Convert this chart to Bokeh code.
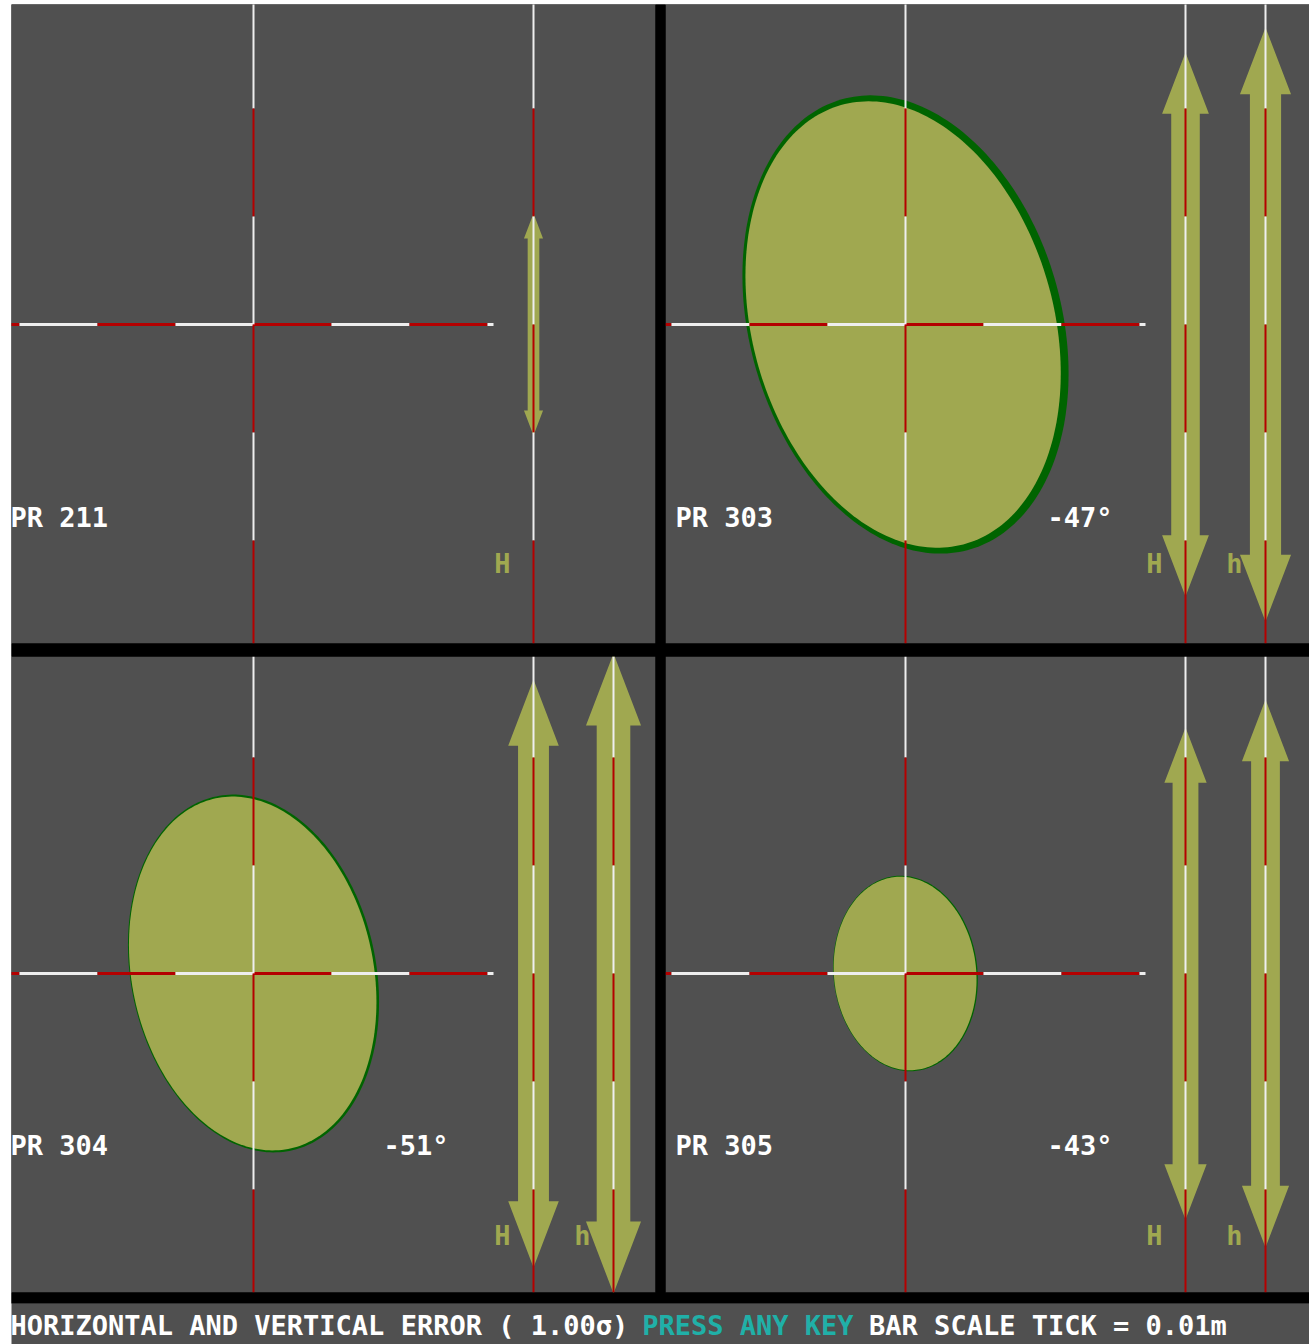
import numpy as np
from bokeh.plotting import figure
from bokeh.models import Range1d, ColumnDataSource
from bokeh.embed import file_html
from bokeh.resources import INLINE
from bokeh.core.properties import value

# ---------------- data ----------------
panel_names = ["PR 211", "PR 303", "PR 304", "PR 305"]
orient_labels = ["", "-47°", "-51°", "-43°"]
ellipse_major = [0.0, 234.0, 181.0, 98.0]    # semi-major axis (display units)
ellipse_minor = [0.0, 156.0, 122.5, 72.0]    # semi-minor axis
ellipse_rot = [0.0, 105.8, 101.9, 96.0]      # degrees, counter-clockwise from east
ellipse_rim = [0.0, 6.0, 2.0, 1.0]           # dark outline thickness
bar_H = [111.0, 272.0, 294.0, 246.0]         # half length of H error bar
bar_h = [0.0, 297.0, 320.0, 274.0]           # half length of h error bar (0 = none)
bar_labels = ["H", "h"]
footer_parts = ["HORIZONTAL AND VERTICAL ERROR ( 1.00σ)", "PRESS ANY KEY", "BAR SCALE TICK = 0.01m"]

# ---------------- layout / style ----------------
W, H = 1309, 1344
GRAY = "#505050"
BLACK = "#000000"
WHITE = "#EEEEEE"
RED = "#B40000"
OLIVE = "#A0A850"
DKGREEN = "#006400"
TEAL = "#20B0A8"
FONT = value("DejaVu Sans Mono")
FSIZE = "27px"

col_x0 = [11, 665]
col_x1 = [655, 1309]
row_y0 = [4, 656]
row_y1 = [643, 1292]
centre_x = [253, 905]
centre_y = [324, 973]
cross_right = 240
tick_x, tick_y = 78, 108
bar_off = [280, 360]
name_x = [10, 675]
angle_x = [383, 1047]
label_y = [517, 1145]
hlabel_y = [563, 1235]

p = figure(width=W, height=H, x_range=Range1d(0, W), y_range=Range1d(H, 0),
           output_backend="svg", toolbar_location=None, min_border=0,
           x_axis_type=None, y_axis_type=None)
p.grid.visible = False
p.outline_line_color = None
p.background_fill_color = "white"
p.border_fill_color = "white"

# screen background (black) and panels (gray)
p.quad(left=[col_x0[0]], right=[W], top=[row_y0[0]], bottom=[1303], fill_color=BLACK, line_color=None)
pl, pr, pt, pb = [], [], [], []
for i in range(4):
    r, c = divmod(i, 2)
    pl.append(col_x0[c]); pr.append(col_x1[c]); pt.append(row_y0[r]); pb.append(row_y1[r])
pl.append(col_x0[0]); pr.append(W); pt.append(1303); pb.append(H)
p.quad(left=pl, right=pr, top=pt, bottom=pb, fill_color=GRAY, line_color=None)


def ellipse_pts(cx, cy, a, b, rot_deg, n=240):
    t = np.linspace(0, 2 * np.pi, n)
    th = np.deg2rad(rot_deg)
    u, v = a * np.cos(t), b * np.sin(t)
    X = u * np.cos(th) - v * np.sin(th)
    Y = u * np.sin(th) + v * np.cos(th)
    return list(cx + X), list(cy - Y)


gx, gy, ox, oy = [], [], [], []
for i in range(4):
    if ellipse_major[i] <= 0:
        continue
    r, c = divmod(i, 2)
    cx, cy = centre_x[c], centre_y[r]
    xs, ys = ellipse_pts(cx, cy, ellipse_major[i], ellipse_minor[i], ellipse_rot[i])
    gx.append(xs); gy.append(ys)
    rim = ellipse_rim[i]
    xs, ys = ellipse_pts(cx - 0.4 * rim, cy, ellipse_major[i] - rim, ellipse_minor[i] - rim * 0.9, ellipse_rot[i])
    ox.append(xs); oy.append(ys)
p.patches(xs=gx, ys=gy, fill_color=DKGREEN, line_color=None)
p.patches(xs=ox, ys=oy, fill_color=OLIVE, line_color=None)


def arrow_pts(xc, yc, L):
    hl, hw, sw = 0.225 * L, 0.172 * L / 2, 0.105 * L / 2
    xs = [xc, xc + hw, xc + sw, xc + sw, xc + hw, xc, xc - hw, xc - sw, xc - sw, xc - hw]
    ys = [yc - L, yc - L + hl, yc - L + hl, yc + L - hl, yc + L - hl, yc + L,
          yc + L - hl, yc + L - hl, yc - L + hl, yc - L + hl]
    return xs, ys


ax, ay = [], []
bar_lines = []
hl_x, hl_y, hl_t = [], [], []
for i in range(4):
    r, c = divmod(i, 2)
    cx, cy = centre_x[c], centre_y[r]
    for k, L in enumerate([bar_H[i], bar_h[i]]):
        if L <= 0:
            continue
        bx = cx + bar_off[k]
        xs, ys = arrow_pts(bx, cy, L)
        ax.append(xs); ay.append(ys)
        bar_lines.append((bx, cy, row_y0[r], row_y1[r]))
        hl_x.append(bx - 31); hl_y.append(hlabel_y[r]); hl_t.append(bar_labels[k])
p.patches(xs=ax, ys=ay, fill_color=OLIVE, line_color=None)

# dashed (white / red) tick lines
seg = dict(x0=[], y0=[], x1=[], y1=[], color=[], w=[])


def add_dashes(centre, lo, hi, tick, fixed, horizontal, width):
    k0 = int(np.floor((lo - centre) / tick))
    k1 = int(np.ceil((hi - centre) / tick))
    for k in range(k0, k1):
        s = max(lo, centre + k * tick)
        e = min(hi, centre + (k + 1) * tick)
        if e <= s:
            continue
        col = WHITE if k % 2 else RED
        if horizontal:
            seg["x0"].append(s); seg["x1"].append(e); seg["y0"].append(fixed); seg["y1"].append(fixed)
        else:
            seg["y0"].append(s); seg["y1"].append(e); seg["x0"].append(fixed); seg["x1"].append(fixed)
        seg["color"].append(col); seg["w"].append(width)


for i in range(4):
    r, c = divmod(i, 2)
    cx, cy = centre_x[c], centre_y[r]
    add_dashes(cx, col_x0[c], cx + cross_right, tick_x, cy, True, 3)
    add_dashes(cy, row_y0[r], row_y1[r], tick_y, cx, False, 2)
for bx, cy, y0, y1 in bar_lines:
    add_dashes(cy, y0, y1, tick_y, bx, False, 2)
p.segment(x0="x0", y0="y0", x1="x1", y1="y1", line_color="color", line_width="w",
          line_cap="butt", source=ColumnDataSource(seg))

# black separators on top
p.quad(left=[655, col_x0[0], col_x0[0]], right=[665, W, W], top=[row_y0[0], 643, 1292],
       bottom=[1292, 656, 1303], fill_color=BLACK, line_color=None)

# texts
nx, ny, nt = [], [], []
for i in range(4):
    r, c = divmod(i, 2)
    nx.append(name_x[c]); ny.append(label_y[r]); nt.append(panel_names[i])
    if orient_labels[i]:
        nx.append(angle_x[c]); ny.append(label_y[r]); nt.append(orient_labels[i])
p.text(x=nx, y=ny, text=nt, text_color="white", text_font=FONT, text_font_size=FSIZE,
       text_font_style="bold", text_baseline="middle", text_align="left")
p.text(x=hl_x, y=hl_y, text=hl_t, text_color=OLIVE, text_font=FONT, text_font_size=FSIZE,
       text_font_style="bold", text_baseline="middle", text_align="center")

pitch = 16.2
fx, ft, fc = [], [], []
pos = 0
for j, part in enumerate(footer_parts):
    fx.append(10 + pos * pitch); ft.append(part); fc.append(TEAL if j == 1 else "white")
    pos += len(part) + 1
p.text(x=fx, y=[1325] * len(fx), text=ft, text_color=fc, text_font=FONT, text_font_size=FSIZE,
       text_font_style="bold", text_baseline="middle", text_align="left")

open("out.html", "w").write(file_html(p, INLINE))
